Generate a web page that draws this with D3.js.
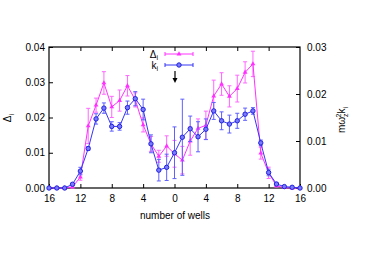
<!DOCTYPE html>
<html>
<head>
<meta charset="utf-8">
<script src="https://cdn.jsdelivr.net/npm/d3@7"></script>
<style>
  body { margin: 0; background: #fff; }
  svg { display: block; font-family: "Liberation Sans", Arial, sans-serif; }
</style>
</head>
<body>
<svg id="chart" width="366" height="256"></svg>
<script>
// well index, negative = left side of the chain
const wells = d3.range(-16, 17);

// Delta_i (left axis) and its error
const delta = [0, 0, 0, 0.0003, 0.0031, 0.0176, 0.0235, 0.0298, 0.0230, 0.0248, 0.0290, 0.0250, 0.0179,
  0.0125, 0.0090, 0.0119, 0.0097, 0.0079, 0.0133, 0.0169, 0.0178, 0.0261, 0.0295, 0.0260, 0.0282,
  0.0328, 0.0352, 0.0099, 0.0043, 0.0006, 0.0001, 0, 0];
const deltaErr = [0, 0, 0, 0.0003, 0.0009, 0.0050, 0.0020, 0.0032, 0.0030, 0.0030, 0.0029, 0.0020, 0.0020,
  0.0021, 0.0017, 0.0029, 0.0038, 0.0039, 0.0040, 0.0027, 0.0040, 0.0045, 0.0032, 0.0030, 0.0038,
  0.0030, 0.0036, 0.0017, 0.0016, 0.0003, 0, 0, 0];

// m omega_z^2 k_i (right axis) and its error
const kval = [0, 0, 0, 0.0008, 0.0036, 0.0084, 0.0147, 0.0170, 0.0131, 0.0131, 0.0171, 0.0190, 0.0167,
  0.0094, 0.0038, 0.0044, 0.0075, 0.0108, 0.0126, 0.0109, 0.0125, 0.0164, 0.0143, 0.0136, 0.0143,
  0.0157, 0.0164, 0.0096, 0.0033, 0.00085, 0.0003, 0.00015, 0];
const kErr = [0, 0, 0, 0.0002, 0.0008, 0.0004, 0.0011, 0.0011, 0.0010, 0.0008, 0.0014, 0.0015, 0.0022,
  0.0019, 0.0023, 0.0028, 0.0055, 0.0081, 0.0027, 0.0032, 0.0022, 0.0018, 0.0019, 0.0019, 0.0016,
  0.0013, 0.0007, 0.0006, 0.0007, 0.0002, 0, 0, 0];

const xTicks = [-16, -12, -8, -4, 0, 4, 8, 12, 16];
const yTicks = [0, 0.01, 0.02, 0.03, 0.04];
const y2Ticks = [0, 0.01, 0.02, 0.03];

const magenta = "#ff30ff", magentaErr = "#ff66ff";
const blue = "#3535f5", blueErr = "#6060ff";

const svg = d3.select("#chart");
const pLeft = 49, pRight = 300, pTop = 47, pBottom = 188;

const x = d3.scaleLinear().domain([-16, 16]).range([pLeft, pRight]);
const y = d3.scaleLinear().domain([0, 0.04]).range([pBottom, pTop]);
const y2 = d3.scaleLinear().domain([0, 0.03]).range([pBottom, pTop]);

// axes
const fmt = d3.format(".2f");
svg.append("g").attr("transform", `translate(${pLeft},0)`)
  .call(d3.axisLeft(y).tickValues(yTicks).tickFormat(fmt).tickSize(-4).tickPadding(4))
  .call(g => g.select(".domain").remove());
svg.append("g").attr("transform", `translate(${pRight},0)`)
  .call(d3.axisRight(y2).tickValues(y2Ticks).tickFormat(fmt).tickSize(-4).tickPadding(7))
  .call(g => g.select(".domain").remove());
svg.append("g").attr("transform", `translate(0,${pBottom})`)
  .call(d3.axisBottom(x).tickValues(xTicks).tickFormat(d => Math.abs(d)).tickSize(-4).tickPadding(7))
  .call(g => g.select(".domain").remove());
svg.append("g").attr("transform", `translate(0,${pTop})`)
  .call(d3.axisTop(x).tickValues(xTicks.slice(1, -1)).tickFormat("").tickSize(-4))
  .call(g => g.select(".domain").remove());

svg.selectAll(".tick text").attr("font-size", 10).attr("fill", "#000")
  .attr("font-family", "Liberation Sans, Arial, sans-serif");
svg.selectAll(".tick line").attr("stroke", "#000");

svg.append("rect").attr("x", pLeft).attr("y", pTop)
  .attr("width", pRight - pLeft).attr("height", pBottom - pTop)
  .attr("fill", "none").attr("stroke", "#000").attr("stroke-width", 1.2);

// series
function drawSeries(vals, errs, scale, col, ecol, marker) {
  const g = svg.append("g");
  const pts = wells.map((w, i) => ({ w, v: vals[i], e: errs[i] }));
  pts.filter(d => d.e > 0).forEach(d => {
    const y0 = scale(d.v - d.e), y1 = scale(d.v + d.e), cx = x(d.w);
    g.append("path")
      .attr("d", `M${cx},${y0}V${y1}M${cx - 2},${y0}H${cx + 2}M${cx - 2},${y1}H${cx + 2}`)
      .attr("stroke", ecol).attr("stroke-width", 1).attr("fill", "none");
  });
  g.append("path").datum(pts)
    .attr("d", d3.line().x(d => x(d.w)).y(d => scale(d.v)))
    .attr("fill", "none").attr("stroke", col).attr("stroke-width", 1);
  pts.forEach(d => marker(g, x(d.w), scale(d.v)));
}

const tri = (g, cx, cy) => g.append("path")
  .attr("d", d3.symbol(d3.symbolTriangle, 10)())
  .attr("transform", `translate(${cx},${cy})`).attr("fill", magenta);
const circ = (g, cx, cy) => g.append("circle")
  .attr("cx", cx).attr("cy", cy).attr("r", 2.2)
  .attr("fill", "#7a7aff").attr("stroke", "#2222dd").attr("stroke-width", 1);

drawSeries(delta, deltaErr, y, magenta, magentaErr, tri);
drawSeries(kval, kErr, y2, blue, blueErr, circ);

// legend
const legend = [
  { name: "Δ", col: magenta, ecol: magentaErr, mk: tri, yy: 54 },
  { name: "k", col: blue, ecol: blueErr, mk: circ, yy: 65 }
];
legend.forEach(l => {
  const g = svg.append("g");
  g.append("path").attr("d", `M165,${l.yy}H193M165,${l.yy - 2}V${l.yy + 2}M193,${l.yy - 2}V${l.yy + 2}`)
    .attr("stroke", l.col).attr("stroke-width", 1);
  l.mk(g, 179, l.yy);
  const t = g.append("text").attr("x", 158).attr("y", l.yy + 3.5)
    .attr("text-anchor", "end").attr("font-size", 10);
  t.append("tspan").text(l.name);
  t.append("tspan").attr("font-size", 7).attr("dy", 2.5).text("i");
});

// arrow
svg.append("line").attr("x1", 175).attr("x2", 175).attr("y1", 71).attr("y2", 79)
  .attr("stroke", "#000").attr("stroke-width", 1.2);
svg.append("path").attr("d", "M172.5,78L175,83L177.5,78Z").attr("fill", "#000");

// axis labels
svg.append("text").attr("x", 175).attr("y", 219).attr("text-anchor", "middle")
  .attr("font-size", 10).text("number of wells");

const yl = svg.append("text").attr("transform", "translate(11,118) rotate(-90)")
  .attr("text-anchor", "middle").attr("font-size", 10);
yl.append("tspan").text("Δ");
yl.append("tspan").attr("font-size", 7).attr("dy", 2.5).text("i");

const y2l = svg.append("text").attr("transform", "translate(345,120) rotate(-90)")
  .attr("text-anchor", "middle").attr("font-size", 10);
y2l.append("tspan").text("mω");
y2l.append("tspan").attr("font-size", 7).attr("dy", 2.5).text("z");
y2l.append("tspan").attr("font-size", 7).attr("dy", -7).attr("dx", -4).text("2");
y2l.append("tspan").attr("dy", 4.5).text("k");
y2l.append("tspan").attr("font-size", 7).attr("dy", 2.5).text("i");
</script>
</body>
</html>
